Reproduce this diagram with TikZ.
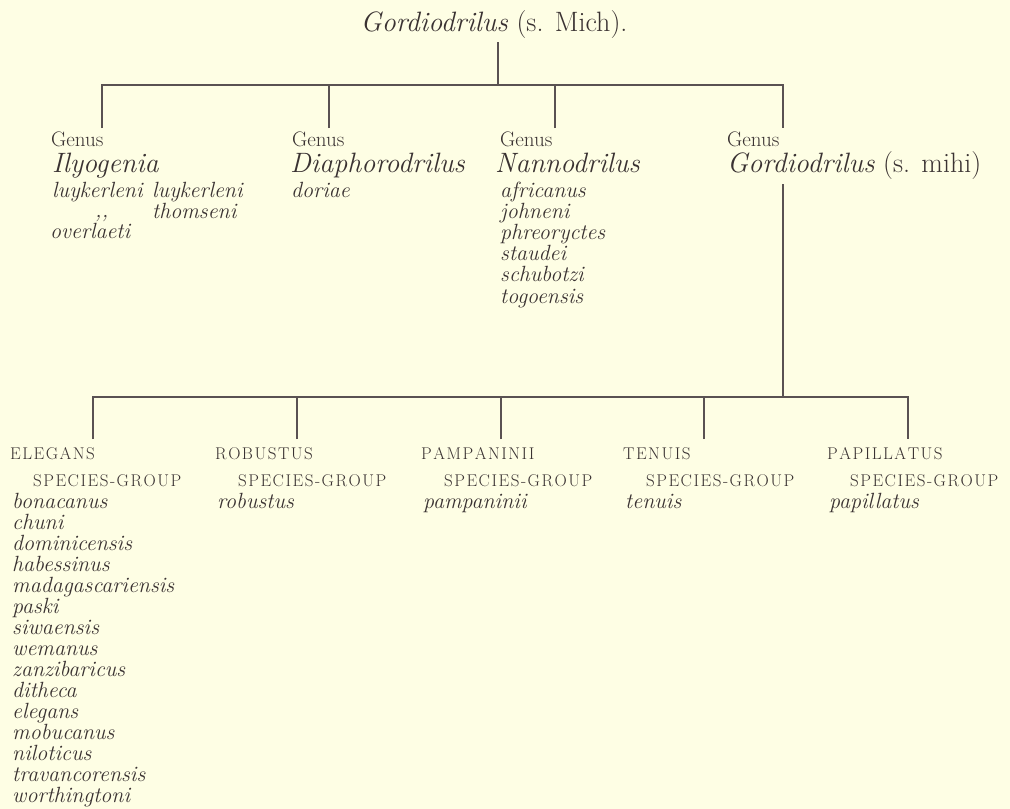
\documentclass[tikz,border=0pt]{standalone}
\usepackage{fontspec}
\usepackage{tikz}
\usetikzlibrary{calc}

\definecolor{paper}{HTML}{FEFEE4}
\definecolor{ink}{HTML}{3A3232}
\definecolor{stroke}{HTML}{5A5252}

% letter-spaced capitals for the group names
\makeatletter
\newcommand\spacedcaps[1]{\@tfor\ch:=#1\do{\ch\kern1.5pt}}
\makeatother

\begin{document}
\begin{tikzpicture} [
    x=1pt, y=-1pt,
    every node/.style = {inner sep=0pt, text=ink},
    title/.style = {anchor=base, font=\fontsize{28}{28}\selectfont},
    genus/.style = {anchor=base west, font=\fontsize{21}{21}\selectfont},
    genusname/.style = {anchor=base west, font=\fontsize{28}{28}\selectfont},
    species/.style = {anchor=base west, font=\fontsize{22}{22}\selectfont\itshape},
    group/.style = {anchor=base west, font=\fontsize{17}{17}\selectfont},
    branch/.style = {draw=stroke, line width=1.1pt}
]
    \useasboundingbox (0,0) rectangle (1010,809);
    \fill[paper] (0,0) rectangle (1010,809);

    \node[title] (root) at (494,31) {\textit{Gordiodrilus} (s. Mich).};

    % genera
    \node[genus] (gIly) at (51,146) {Genus};
    \node[genusname] (nIly) at (52,172) {\textit{Ilyogenia}};
    \node[genus] (gDia) at (292,146) {Genus};
    \node[genusname] (nDia) at (290,172) {\textit{Diaphorodrilus}};
    \node[genus] (gNan) at (500,146) {Genus};
    \node[genusname] (nNan) at (495,172) {\textit{Nannodrilus}};
    \node[genus] (gGor) at (727,146) {Genus};
    \node[genusname] (nGor) at (727,172) {\textit{Gordiodrilus} (s. mihi)};

    \node[species] (sIly1) at (52,197) {luykerleni};
    \node[species] (sIly2) at (152,197) {luykerleni};
    \node[species] (sIly3) at (95,217) {{,}{,}};
    \node[species] (sIly4) at (152,218) {thomseni};
    \node[species] (sIly5) at (50,238) {overlaeti};
    \node[species] (sDia1) at (291,197) {doriae};
    \foreach \sp [count=\i] in {africanus, johneni, phreoryctes, staudei, schubotzi, togoensis}
        \node[species] (sNan\i) at (500,{197+21.2*(\i-1)}) {\sp};

    \coordinate (hubA) at (498,85);
    \coordinate (tIly) at (102,128);
    \coordinate (tDia) at (329,128);
    \coordinate (tNan) at (555,128);
    \coordinate (tGor) at (783,128);
    \draw[branch, shorten <=4pt] (root.south -| hubA) -- (hubA);
    \draw[branch] (tIly) |- (hubA) -| (tGor);
    \foreach \t in {tDia, tNan}
        \draw[branch] (\t) -- (\t |- hubA);

    % species groups
    \coordinate (hubB) at (783,397);
    \draw[branch, shorten <=5pt] (nGor.south -| hubB) -- (hubB);
    \coordinate (tEle) at (93,439);
    \coordinate (tRob) at (297,439);
    \coordinate (tPam) at (501,439);
    \coordinate (tTen) at (704,439);
    \coordinate (tPap) at (908,439);
    \draw[branch] (tEle) |- (hubB) -| (tPap);
    \foreach \t in {tRob, tPam, tTen}
        \draw[branch] (\t) -- (\t |- hubB);

    \foreach \x/\grp/\n/\sp in {10/ELEGANS/Ele/bonacanus, 215/ROBUSTUS/Rob/robustus,
        421/PAMPANINII/Pam/pampaninii, 623/TENUIS/Ten/tenuis, 827/PAPILLATUS/Pap/papillatus} {
        \node[group] (c\n) at (\x,459) {\expandafter\spacedcaps\expandafter{\grp}};
        \node[group] (s\n) at (\x+23,486) {\spacedcaps{SPECIES-GROUP}};
        \node[species] (l\n1) at (\x+2,508) {\sp};
    }
    \foreach \sp [count=\i from 2] in {chuni, dominicensis, habessinus, madagascariensis, paski,
        siwaensis, wemanus, zanzibaricus, ditheca, elegans, mobucanus, niloticus,
        travancorensis, worthingtoni}
        \node[species] (lEle\i) at (12,{508+21*(\i-1)}) {\sp};
\end{tikzpicture}
\end{document}
